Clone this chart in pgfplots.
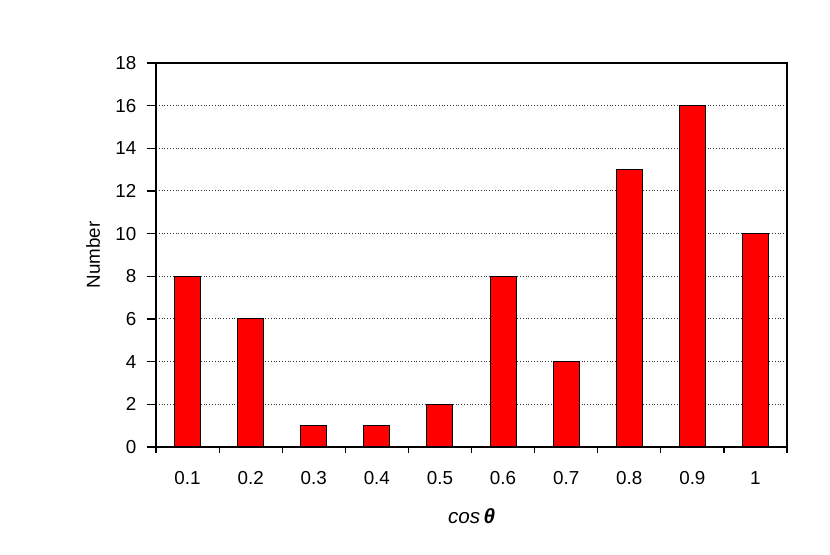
\documentclass[border=0pt]{standalone}
\usepackage{fontspec}
\setmainfont{Liberation Sans}
\usepackage{pgfplots}
\pgfplotsset{compat=1.18}

\begin{document}
\fontsize{9.4}{11}\selectfont
\begin{tikzpicture}[x=1pt,y=1pt]
  \useasboundingbox (0,0) rectangle (415,277.5);
  \begin{axis}[
      at={(78pt,54pt)}, anchor=south west,
      scale only axis, width=315.5pt, height=192pt,
      tick label style={font=\fontsize{9.4}{11}\selectfont},
      label style={font=\fontsize{9.4}{11}\selectfont},
      ybar, bar width=13pt,
      xmin=-0.5, xmax=9.5, ymin=0, ymax=18,
      xtick={0,...,9},
      xticklabels={0.1,0.2,0.3,0.4,0.5,0.6,0.7,0.8,0.9,1},
      major x tick style={draw=none},
      minor xtick={-0.5,0.5,...,9.5},
      minor x tick style={black, line width=0.6pt},
      ytick={0,2,...,18},
      tick align=outside, major tick length=4.5pt, minor tick length=3pt,
      ytick pos=left, xtick pos=bottom,
      ymajorgrids, major grid style={black!80, densely dotted, line width=0.5pt},
      axis line style={black, line width=0.7pt},
      y tick style={black, line width=0.6pt},
      /pgf/number format/assume math mode=true,
      xticklabel style={yshift=-4.4pt},
      yticklabel style={xshift=-2pt},
      xlabel={\fontsize{10.3}{12}\selectfont\textit{cos}\,\textbf{\textit{θ}}},
      ylabel={Number},
      every axis x label/.style={at={(axis description cs:0.5,-0.18)}, anchor=center},
      every axis y label/.style={at={(axis description cs:-0.0998,0.5)}, rotate=90, anchor=center},
    ]
    \addplot[fill=red, draw=black, line width=0.5pt] coordinates {
      (0,8) (1,6) (2,1) (3,1) (4,2) (5,8) (6,4) (7,13) (8,16) (9,10)};
  \end{axis}
\end{tikzpicture}
\end{document}
